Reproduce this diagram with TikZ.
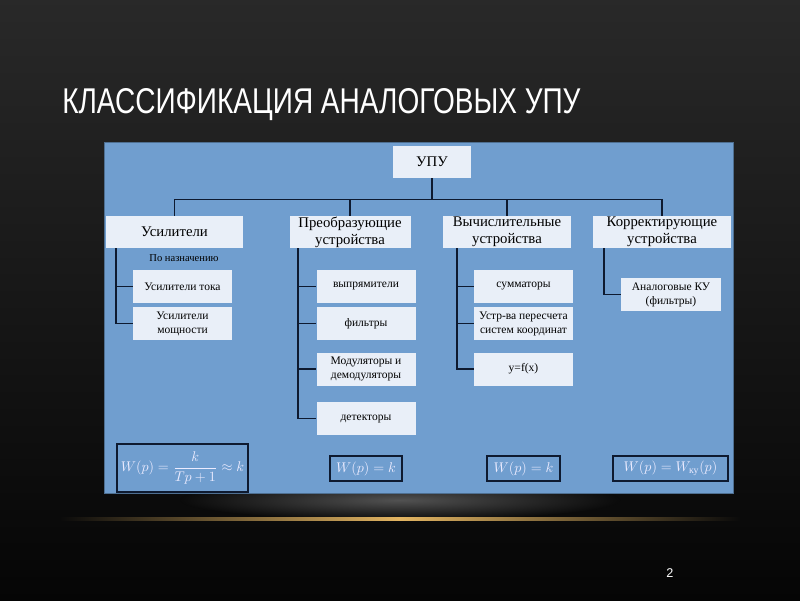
\documentclass[tikz,border=0pt]{standalone}
\usepackage{amsmath,amssymb}
\usepackage{graphicx}
\usepackage{fontspec}
\setmainfont{Liberation Serif}
\newfontfamily\titlefont{Liberation Sans}
\usepackage{xcolor}
\usepackage{tikz}
\usetikzlibrary{positioning}

\definecolor{panelblue}{HTML}{709ECF}
\definecolor{boxfill}{HTML}{E9EFF8}
\definecolor{wirecol}{HTML}{0E1A30}
\definecolor{goldline}{HTML}{E2B462}
\newcommand{\pxu}{0.025cm}

\tikzset{
  topbox/.style={fill=boxfill, draw=none, inner sep=0pt, align=center,
    minimum height=32*\pxu, font=\fontsize{10.5}{12}\selectfont},
  subbox/.style={fill=boxfill, draw=none, inner sep=0pt, align=center,
    minimum width=99*\pxu, minimum height=33*\pxu, font=\fontsize{8.2}{10}\selectfont},
  formbox/.style={fill=panelblue, draw=wirecol, line width=0.8pt, inner sep=0pt,
    minimum height=25*\pxu, text=white!92!blue, font=\fontsize{10}{12}\selectfont},
  wire/.style={draw=wirecol, line width=1.1pt}
}

\begin{document}
\begin{tikzpicture}[x=0.025cm, y=-0.025cm]
\useasboundingbox (0,0) rectangle (800,600);
% slide background
\shade[top color=black!84, bottom color=black!98] (0,0) rectangle (800,600);
\shade[inner color=black!68, outer color=black!96] (400,500) ellipse (220 and 20);
\shade[left color=black!96, right color=black!96, middle color=goldline] (60,517) rectangle (740,520);
% title
\node[anchor=base west, inner sep=0pt, text=white] (title) at (62,113)
  {\resizebox{12.95cm}{0.625cm}{\titlefont КЛАССИФИКАЦИЯ АНАЛОГОВЫХ УПУ}};
\node[text=white, font=\titlefont\fontsize{9}{9}\selectfont] (pagenum) at (670,573) {2};
% blue panel
\draw[fill=panelblue, draw=panelblue!70!black] (104,142) rectangle (733,493);
% top level
\node[topbox, minimum width=78*\pxu] (upu) at (432,162) {УПУ};
\node[topbox, minimum width=137*\pxu] (amp) at (174.5,232) {Усилители};
\node[topbox, minimum width=121*\pxu] (conv) at (350,232) {Преобразующие\\устройства};
\node[topbox, minimum width=128*\pxu] (calc) at (507,232) {Вычислительные\\устройства};
\node[topbox, minimum width=138*\pxu] (corr) at (662,232) {Корректирующие\\устройства};
\draw[wire] (upu.south) -- ++(0,21) -| (amp.north);
\draw[wire] (upu.south) -- ++(0,21) -| (conv.north);
\draw[wire] (upu.south) -- ++(0,21) -| (calc.north);
\draw[wire] (upu.south) -- ++(0,21) -| (corr.north);
% amplifiers
\node[font=\fontsize{7.5}{9}\selectfont, inner sep=0pt] (purpose) at (184,258) {По назначению};
\node[subbox] (amptok) at (182.5,286.5) {Усилители тока};
\node[subbox] (amppow) at (182.5,323.5) {Усилители\\мощности};
\coordinate (ampbar) at (116,248);
\draw[wire] (ampbar) |- (amptok.west);
\draw[wire] (ampbar) |- (amppow.west);
% converters
\node[subbox] (rect) at (366,286.5) {выпрямители};
\node[subbox] (filt) at (366,323.5) {фильтры};
\node[subbox] (mod) at (366,369) {Модуляторы и\\демодуляторы};
\node[subbox] (det) at (366,418.5) {детекторы};
\coordinate (convbar) at (298,248);
\foreach \n in {rect,filt,mod,det}
  \draw[wire] (convbar) |- (\n.west);
% computing devices
\node[subbox] (sum) at (523.5,286.5) {сумматоры};
\node[subbox] (coord) at (523.5,323.5) {Устр-ва пересчета\\систем координат};
\node[subbox] (yfx) at (523.5,369) {y=f(x)};
\coordinate (calcbar) at (457,248);
\foreach \n in {sum,coord,yfx}
  \draw[wire] (calcbar) |- (\n.west);
% correcting devices
\node[subbox, minimum width=100*\pxu] (anku) at (671,294.5) {Аналоговые КУ\\(фильтры)};
\coordinate (corrbar) at (604,248);
\draw[wire] (corrbar) |- (anku.west);
% transfer functions
\node[formbox, minimum width=131*\pxu, minimum height=48*\pxu] (f1) at (182.5,468)
  {$W(p)=\dfrac{k}{Tp+1}\approx k$};
\node[formbox, minimum width=72*\pxu] (f2) at (366,468.5) {$W(p)=k$};
\node[formbox, minimum width=73*\pxu] (f3) at (523.5,468.5) {$W(p)=k$};
\node[formbox, minimum width=115*\pxu] (f4) at (670.5,468.5) {$W(p)=W_{\text{ку}}(p)$};
\end{tikzpicture}
\end{document}
